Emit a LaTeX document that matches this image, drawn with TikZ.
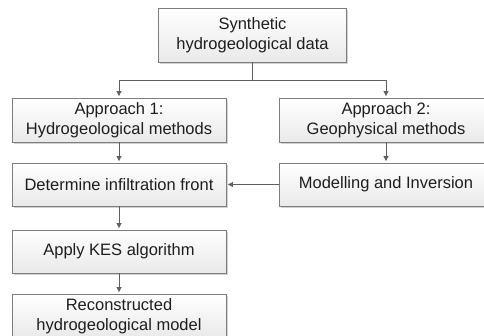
\documentclass[tikz,border=0pt]{standalone}
\usepackage{fontspec}
\setmainfont{Liberation Sans}
\usetikzlibrary{arrows.meta,shadows}

\definecolor{boxline}{RGB}{125,125,125}
\definecolor{arrline}{RGB}{95,95,95}
\definecolor{boxtext}{RGB}{30,30,30}

\begin{document}
\begin{tikzpicture}[x=1pt, y=-1pt,
  stage/.style={draw=boxline, line width=0.9pt, top color=white, bottom color=gray!17,
    minimum width=214pt, minimum height=44pt, inner sep=0pt, align=center,
    text=boxtext, font=\fontsize{16.5}{20.5}\selectfont,
    drop shadow={shadow xshift=1.6pt, shadow yshift=-1.6pt, fill=black!35, opacity=0.5}},
  flow/.style={draw=arrline, line width=0.9pt, -{Triangle[length=5pt,width=5pt]}, shorten >=1.5pt}]
  \useasboundingbox (0,0) rectangle (484,335);

  \node[stage, minimum width=188pt, minimum height=54pt] (syn) at (252.5,35) {Synthetic\\hydrogeological data};
  \node[stage] (app1) at (119,120) {Approach 1:\\Hydrogeological methods};
  \node[stage] (app2) at (386,120) {Approach 2:\\Geophysical methods};
  \node[stage, minimum height=43pt] (front) at (119,184.5) {Determine infiltration front};
  \node[stage, minimum height=43pt] (inv) at (386,184.5) {Modelling and Inversion};
  \node[stage, minimum height=43pt] (kes) at (119,251.5) {Apply KES algorithm};
  \node[stage] (recon) at (119,316) {Reconstructed\\hydrogeological model};

  \coordinate (split) at (252.5,80);

  \draw[draw=arrline, line width=0.9pt] (syn.south) -- (split);
  \draw[flow] (split) -| (app1.north);
  \draw[flow] (split) -| (app2.north);
  \draw[flow] (app1) -- (front);
  \draw[flow] (app2) -- (inv);
  \draw[flow] (inv) -- (front);
  \draw[flow] (front) -- (kes);
  \draw[flow] (kes) -- (recon);
\end{tikzpicture}
\end{document}
